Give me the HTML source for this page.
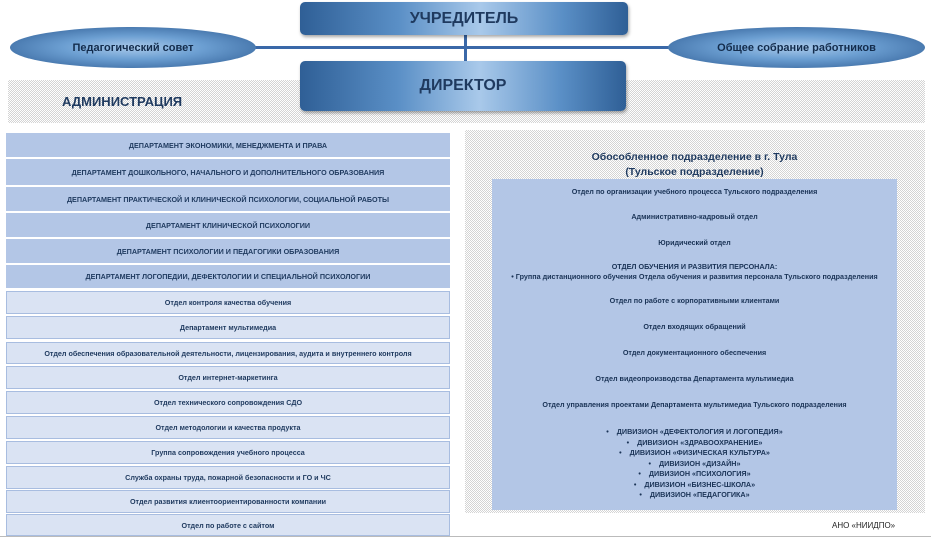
<!DOCTYPE html>
<html><head><meta charset="utf-8"><style>
body{margin:0;width:931px;height:539px;background:#fff;position:relative;overflow:hidden;font-family:"Liberation Sans","DejaVu Sans",sans-serif;}
.a{position:absolute;box-sizing:border-box;}
.dot{background-color:#fff;background-image:conic-gradient(#d4d4d4 25%,#fff 0 50%,#d4d4d4 0 75%,#fff 0);background-size:2px 2px;}
.bx{background:linear-gradient(90deg,#2f5f96 0%,#5a8fc6 30%,#a9c9ea 55%,#5a8fc6 80%,#2f5f96 100%);border-radius:5px;color:#1f3a5f;font-weight:bold;display:flex;align-items:center;justify-content:center;box-shadow:1px 2px 3px rgba(0,0,0,.35);}
.el{border-radius:50%;background:radial-gradient(ellipse at center,#a9c9ea 0%,#6c9fd2 40%,#2a5890 100%);color:#132c4c;font-size:11px;font-weight:bold;display:flex;align-items:center;justify-content:center;}
.r{position:absolute;left:6px;width:444px;display:flex;align-items:center;justify-content:center;font-size:7.2px;font-weight:bold;color:#1f3a5f;box-sizing:border-box;}
.d{background:#b3c6e6;}
.l{background:#dae3f3;border:1px solid #a8bde0;}
.t{position:absolute;left:492px;width:405px;display:flex;align-items:center;justify-content:center;flex-direction:column;font-size:7.2px;font-weight:bold;color:#1a3356;background:#b3c6e6;text-align:center;line-height:10px;border-bottom:1px dashed #fff;}
</style></head><body>
<div class="a dot" style="left:8px;top:80px;width:917px;height:43px;"></div>
<div class="a" style="left:140px;top:46px;width:660px;height:3px;background:#3a68a8;"></div>
<div class="a" style="left:464px;top:34px;width:3px;height:28px;background:#3a68a8;"></div>
<div class="a el" style="left:10px;top:27px;width:246px;height:41px;">Педагогический совет</div>
<div class="a el" style="left:668px;top:27px;width:257px;height:41px;">Общее собрание работников</div>
<div class="a bx" style="left:300px;top:2px;width:328px;height:33px;font-size:16px;">УЧРЕДИТЕЛЬ</div>
<div class="a bx" style="left:300px;top:61px;width:326px;height:50px;font-size:16px;">ДИРЕКТОР</div>
<div class="a" style="left:62px;top:94px;font-size:13px;font-weight:bold;color:#1f3a5f;">АДМИНИСТРАЦИЯ</div>

<div class="r d" style="top:133px;height:24px;">ДЕПАРТАМЕНТ ЭКОНОМИКИ, МЕНЕДЖМЕНТА И ПРАВА</div>
<div class="r d" style="top:159px;height:26px;">ДЕПАРТАМЕНТ ДОШКОЛЬНОГО, НАЧАЛЬНОГО И ДОПОЛНИТЕЛЬНОГО ОБРАЗОВАНИЯ</div>
<div class="r d" style="top:187px;height:24px;">ДЕПАРТАМЕНТ ПРАКТИЧЕСКОЙ И КЛИНИЧЕСКОЙ ПСИХОЛОГИИ, СОЦИАЛЬНОЙ РАБОТЫ</div>
<div class="r d" style="top:213px;height:24px;">ДЕПАРТАМЕНТ КЛИНИЧЕСКОЙ ПСИХОЛОГИИ</div>
<div class="r d" style="top:239px;height:24px;">ДЕПАРТАМЕНТ ПСИХОЛОГИИ И ПЕДАГОГИКИ ОБРАЗОВАНИЯ</div>
<div class="r d" style="top:265px;height:23px;">ДЕПАРТАМЕНТ ЛОГОПЕДИИ, ДЕФЕКТОЛОГИИ И СПЕЦИАЛЬНОЙ ПСИХОЛОГИИ</div>
<div class="r l" style="top:291px;height:23px;">Отдел контроля качества обучения</div>
<div class="r l" style="top:316px;height:23px;">Департамент мультимедиа</div>
<div class="r l" style="top:342px;height:22px;">Отдел обеспечения образовательной деятельности, лицензирования, аудита и внутреннего контроля</div>
<div class="r l" style="top:366px;height:23px;">Отдел интернет-маркетинга</div>
<div class="r l" style="top:391px;height:23px;">Отдел технического сопровождения СДО</div>
<div class="r l" style="top:416px;height:23px;">Отдел методологии и качества продукта</div>
<div class="r l" style="top:441px;height:23px;">Группа сопровождения учебного процесса</div>
<div class="r l" style="top:466px;height:23px;">Служба охраны труда, пожарной безопасности и ГО и ЧС</div>
<div class="r l" style="top:490px;height:23px;">Отдел развития клиентоориентированности компании</div>
<div class="r l" style="top:514px;height:22px;">Отдел по работе с сайтом</div>

<div class="a dot" style="left:465px;top:130px;width:460px;height:383px;"></div>
<div class="a" style="left:492px;top:150px;width:405px;text-align:center;font-size:10.5px;font-weight:bold;color:#1f3a5f;line-height:15px;">Обособленное подразделение в г. Тула<br>(Тульское подразделение)</div>
<div class="t" style="top:179px;height:25px;">Отдел по организации учебного процесса Тульского подразделения</div>
<div class="t" style="top:204px;height:26px;">Административно-кадровый отдел</div>
<div class="t" style="top:230px;height:26px;">Юридический отдел</div>
<div class="t" style="top:256px;height:32px;"><span>ОТДЕЛ ОБУЧЕНИЯ И РАЗВИТИЯ ПЕРСОНАЛА:</span><span>• Группа дистанционного обучения Отдела обучения и развития персонала Тульского подразделения</span></div>
<div class="t" style="top:288px;height:26px;">Отдел по работе с корпоративными клиентами</div>
<div class="t" style="top:314px;height:26px;">Отдел входящих обращений</div>
<div class="t" style="top:340px;height:26px;">Отдел документационного обеспечения</div>
<div class="t" style="top:366px;height:26px;">Отдел видеопроизводства Департамента мультимедиа</div>
<div class="t" style="top:392px;height:26px;">Отдел управления проектами Департамента мультимедиа Тульского подразделения</div>
<div class="t" style="top:418px;height:92px;line-height:10.5px;border-bottom:none;">
<span>•&nbsp;&nbsp;&nbsp; ДИВИЗИОН «ДЕФЕКТОЛОГИЯ И ЛОГОПЕДИЯ»</span>
<span>•&nbsp;&nbsp;&nbsp; ДИВИЗИОН «ЗДРАВООХРАНЕНИЕ»</span>
<span>•&nbsp;&nbsp;&nbsp; ДИВИЗИОН «ФИЗИЧЕСКАЯ КУЛЬТУРА»</span>
<span>•&nbsp;&nbsp;&nbsp; ДИВИЗИОН «ДИЗАЙН»</span>
<span>•&nbsp;&nbsp;&nbsp; ДИВИЗИОН «ПСИХОЛОГИЯ»</span>
<span>•&nbsp;&nbsp;&nbsp; ДИВИЗИОН «БИЗНЕС-ШКОЛА»</span>
<span>•&nbsp;&nbsp;&nbsp; ДИВИЗИОН «ПЕДАГОГИКА»</span>
</div>
<div class="a" style="left:832px;top:521px;font-size:8px;color:#222;">АНО «НИИДПО»</div>
<div class="a" style="left:0;top:536px;width:931px;height:1px;background:#bbb;"></div>
</body></html>
